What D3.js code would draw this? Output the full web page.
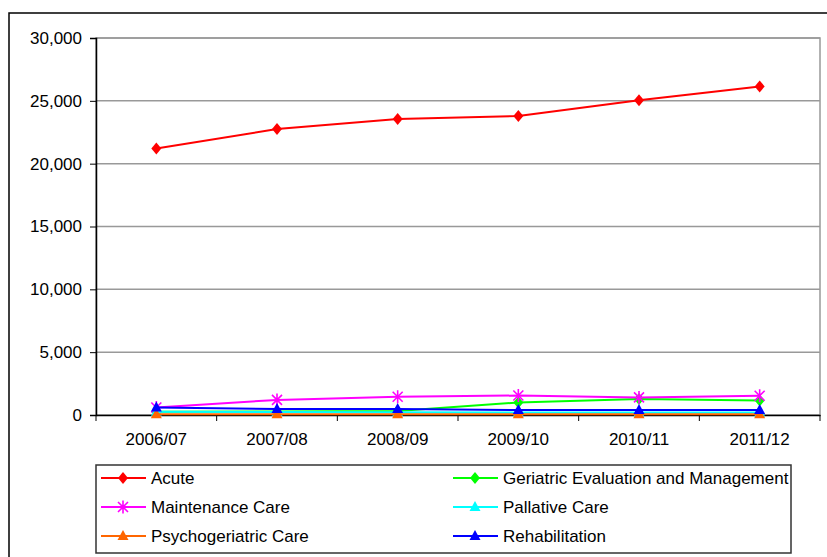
<!DOCTYPE html>
<html>
<head>
<meta charset="utf-8">
<script src="https://cdn.jsdelivr.net/npm/d3@7"></script>
<style>
	body { margin: 0; background: white; }
	svg { display: block; font-family: "Liberation Sans", Arial, sans-serif; }
</style>
</head>
<body>
<div id="chart"></div>
<script>
// values
let years = ['2006/07', '2007/08', '2008/09', '2009/10', '2010/11', '2011/12'];
let acute = [21200, 22750, 23550, 23800, 25050, 26150];
let geriatric = [250, 280, 320, 1000, 1270, 1150];
let maintenance = [600, 1200, 1450, 1550, 1400, 1530];
let pallative = [260, 230, 220, 200, 200, 200];
let psychogeriatric = [50, 50, 50, 50, 50, 50];
let rehabilitation = [600, 480, 470, 400, 400, 400];
let yTicks = [0, 5000, 10000, 15000, 20000, 25000, 30000];

let series = [
	{ name: 'Acute', values: acute, color: '#ff0000', marker: 'diamond' },
	{ name: 'Geriatric Evaluation and Management', values: geriatric, color: '#00ff00', marker: 'diamond' },
	{ name: 'Maintenance Care', values: maintenance, color: '#ff00ff', marker: 'star' },
	{ name: 'Pallative Care', values: pallative, color: '#00ffff', marker: 'triangle' },
	{ name: 'Psychogeriatric Care', values: psychogeriatric, color: '#ff6600', marker: 'triangle' },
	{ name: 'Rehabilitation', values: rehabilitation, color: '#0000ff', marker: 'triangle' }
];

let width = 827,
	height = 557,
	margin = { top: 38, right: 7, bottom: 142, left: 96 };

let svg = d3.select('#chart')
	.append('svg')
	.attr('width', width)
	.attr('height', height);

// outer chart border (runs off the right and bottom edges)
svg.append('rect')
	.attr('x', 9)
	.attr('y', 13)
	.attr('width', 830)
	.attr('height', 560)
	.attr('fill', 'white')
	.attr('stroke', '#000')
	.attr('stroke-width', 1.5);

let x = d3.scaleBand()
	.domain(years)
	.range([margin.left, width - margin.right]);

let y = d3.scaleLinear()
	.domain([0, 30000])
	.range([height - margin.bottom, margin.top]);

// plot area border
svg.append('rect')
	.attr('x', margin.left)
	.attr('y', margin.top)
	.attr('width', width - margin.right - margin.left)
	.attr('height', y(0) - margin.top)
	.attr('fill', 'none')
	.attr('stroke', '#999')
	.attr('stroke-width', 1.5);

// gridlines
svg.append('g')
	.selectAll('line')
	.data(yTicks.filter(d => d > 0))
	.join('line')
	.attr('x1', margin.left)
	.attr('x2', width - margin.right)
	.attr('y1', d => y(d))
	.attr('y2', d => y(d))
	.attr('stroke', '#999')
	.attr('stroke-width', 1.5);

let yAxis = svg.append('g')
	.attr('transform', 'translate(' + margin.left + ',0)')
	.call(d3.axisLeft(y).tickValues(yTicks).tickSize(6).tickPadding(8).tickFormat(d3.format(',')));

let xAxis = svg.append('g')
	.attr('transform', 'translate(0,' + y(0) + ')')
	.call(d3.axisBottom(x).tickSize(0).tickPadding(18));

// category boundary ticks on the x axis
let bounds = years.map(d => x(d)).concat([x(years[years.length - 1]) + x.bandwidth()]);
xAxis.selectAll('.bound')
	.data(bounds)
	.join('line')
	.attr('class', 'bound')
	.attr('x1', d => d)
	.attr('x2', d => d)
	.attr('y1', 0)
	.attr('y2', 6)
	.attr('stroke', '#000');

[yAxis, xAxis].forEach(function (g) {
	g.select('.domain').attr('stroke', '#000').attr('stroke-width', 1.5);
	g.selectAll('text').style('font-size', '17px').attr('fill', '#000').style('font-family', '"Liberation Sans", Arial, sans-serif');
});
yAxis.selectAll('.tick line').attr('stroke', '#000');

function drawMarker(g, type, color) {
	if (type == 'diamond') {
		g.append('path').attr('d', 'M0,-6L5,0L0,6L-5,0Z').attr('fill', color);
	} else if (type == 'triangle') {
		g.append('path').attr('d', 'M0,-6L5.5,4L-5.5,4Z').attr('fill', color);
	} else {
		g.append('path')
			.attr('d', 'M-5,-5L5,5M-5,5L5,-5M0,-6.5L0,6.5')
			.attr('stroke', color)
			.attr('stroke-width', 1.6)
			.attr('fill', 'none');
	}
}

let line = d3.line()
	.x((d, i) => x(years[i]) + x.bandwidth() / 2)
	.y(d => y(d));

series.forEach(function (s) {
	svg.append('path')
		.datum(s.values)
		.attr('d', line)
		.attr('fill', 'none')
		.attr('stroke', s.color)
		.attr('stroke-width', 2);

	s.values.forEach(function (v, i) {
		let g = svg.append('g')
			.attr('transform', 'translate(' + (x(years[i]) + x.bandwidth() / 2) + ',' + y(v) + ')');
		drawMarker(g, s.marker, s.color);
	});
});

// legend
svg.append('rect')
	.attr('x', 96)
	.attr('y', 465)
	.attr('width', 695)
	.attr('height', 88)
	.attr('fill', 'white')
	.attr('stroke', '#333')
	.attr('stroke-width', 1.5);

let colX = [101, 453];
let rowY = [478, 507, 536];

series.forEach(function (s, i) {
	let lx = colX[i % 2], ly = rowY[Math.floor(i / 2)];
	let g = svg.append('g');
	g.append('line')
		.attr('x1', lx)
		.attr('x2', lx + 45)
		.attr('y1', ly)
		.attr('y2', ly)
		.attr('stroke', s.color)
		.attr('stroke-width', 2);
	let m = g.append('g').attr('transform', 'translate(' + (lx + 22) + ',' + ly + ')');
	drawMarker(m, s.marker, s.color);
	g.append('text')
		.attr('x', lx + 50)
		.attr('y', ly)
		.attr('dy', '0.35em')
		.style('font-size', '17px')
		.text(s.name);
});
</script>
</body>
</html>
